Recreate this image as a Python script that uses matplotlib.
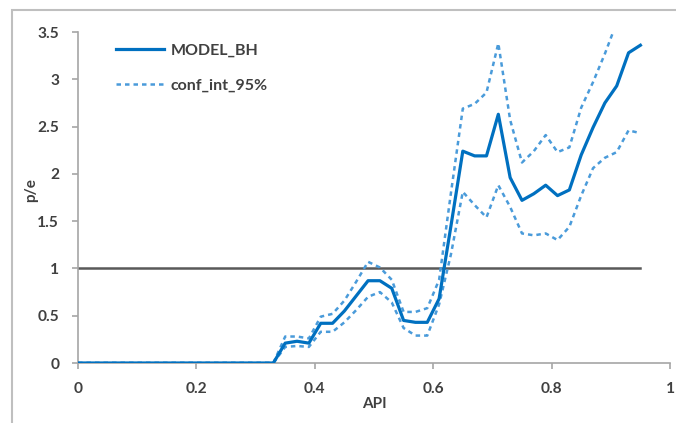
import numpy as np
import matplotlib.pyplot as plt
from matplotlib.patches import Rectangle

plt.rcParams['font.family'] = ['Lato', 'DejaVu Sans']

# API grid (0 .. 0.31 all zero, then every 0.02)
api = [0.0, 0.31, 0.33, 0.35, 0.37, 0.39, 0.41, 0.43, 0.45, 0.47, 0.49, 0.51,
       0.53, 0.55, 0.57, 0.59, 0.61, 0.63, 0.65, 0.67, 0.69, 0.71, 0.73,
       0.75, 0.77, 0.79, 0.81, 0.83, 0.85, 0.87, 0.89, 0.91, 0.93, 0.95]

model_bh = [0.0, 0.0, 0.0, 0.21, 0.23, 0.21, 0.42, 0.42, 0.55, 0.71, 0.87, 0.87,
            0.79, 0.45, 0.43, 0.43, 0.68, 1.45, 2.24, 2.19, 2.19, 2.63, 1.96,
            1.72, 1.79, 1.88, 1.77, 1.83, 2.20, 2.49, 2.75, 2.93, 3.28, 3.36]

ci_upper = [0.0, 0.0, 0.0, 0.28, 0.28, 0.26, 0.49, 0.52, 0.66, 0.86, 1.07, 1.01,
            0.88, 0.54, 0.54, 0.58, 0.88, 1.80, 2.69, 2.74, 2.86, 3.38, 2.57,
            2.12, 2.24, 2.41, 2.23, 2.28, 2.70, 2.97, 3.27, 3.60, 3.90, 4.00]

ci_lower = [0.0, 0.0, 0.0, 0.17, 0.18, 0.17, 0.33, 0.33, 0.43, 0.56, 0.70, 0.75,
            0.64, 0.37, 0.29, 0.29, 0.62, 1.15, 1.81, 1.67, 1.54, 1.88, 1.65,
            1.37, 1.35, 1.37, 1.30, 1.44, 1.77, 2.06, 2.17, 2.23, 2.46, 2.43]

ref_x = [0.0, 0.95]
ref_y = [1.0, 1.0]

x_ticks = [0, 0.2, 0.4, 0.6, 0.8, 1]
x_tick_labels = ['0', '0.2', '0.4', '0.6', '0.8', '1']
y_ticks = [0, 0.5, 1, 1.5, 2, 2.5, 3, 3.5]
y_tick_labels = ['0', '0.5', '1', '1.5', '2', '2.5', '3', '3.5']

blue = '#0070C0'
light_blue = '#4A9BDA'
axis_grey = '#A6A6A6'
text_grey = '#404040'

fig = plt.figure(figsize=(6.76, 4.23), dpi=100)
fig.patch.set_facecolor('white')

# chart frame
fig.patches.append(Rectangle((12 / 676, -0.1), 1.2, (423 - 10) / 423 + 0.1,
                             transform=fig.transFigure, fill=False,
                             edgecolor='#BFBFBF', linewidth=1.5, zorder=0))

ax = fig.add_axes([78 / 676, (423 - 363) / 423, 592 / 676, 331 / 423])

ax.plot(ref_x, ref_y, color='#595959', linewidth=1.8, zorder=2)
ax.plot(api, ci_upper, color=light_blue, linewidth=1.8,
        linestyle=(0, (1.8, 1.6)), zorder=3, label='conf_int_95%')
ax.plot(api, ci_lower, color=light_blue, linewidth=1.8,
        linestyle=(0, (1.8, 1.6)), zorder=3)
ax.plot(api, model_bh, color=blue, linewidth=2.3, zorder=4, label='MODEL_BH')

ax.set_xlim(0, 1)
ax.set_ylim(0, 3.5)
ax.set_xticks(x_ticks)
ax.set_xticklabels(x_tick_labels)
ax.set_yticks(y_ticks)
ax.set_yticklabels(y_tick_labels)

for side in ('top', 'right'):
    ax.spines[side].set_visible(False)
for side in ('left', 'bottom'):
    ax.spines[side].set_color(axis_grey)
    ax.spines[side].set_linewidth(1.2)

ax.tick_params(axis='both', direction='out', length=4.5, width=1.2,
               color=axis_grey, labelcolor=text_grey, labelsize=11.2)
ax.tick_params(axis='y', pad=9)
ax.tick_params(axis='x', pad=9)
for lbl in ax.get_xticklabels() + ax.get_yticklabels():
    lbl.set_fontweight('bold')

ax.set_xlabel('API', fontsize=11, fontweight='bold', color=text_grey,
              labelpad=1)
fig.text(31 / 676, 1 - 190 / 423, 'p/e', rotation=90, ha='center',
         va='center', fontsize=11, fontweight='bold', color=text_grey)

handles, labels = ax.get_legend_handles_labels()
leg = ax.legend(handles[::-1], labels[::-1], loc='upper left',
                bbox_to_anchor=(0.046, 1.0), frameon=False, fontsize=11.5,
                handlelength=3.0, handletextpad=0.4, labelspacing=1.3,
                borderaxespad=0.3)
for t in leg.get_texts():
    t.set_color(text_grey)
    t.set_fontweight('bold')

fig.savefig('out.png', dpi=100, facecolor='white')
